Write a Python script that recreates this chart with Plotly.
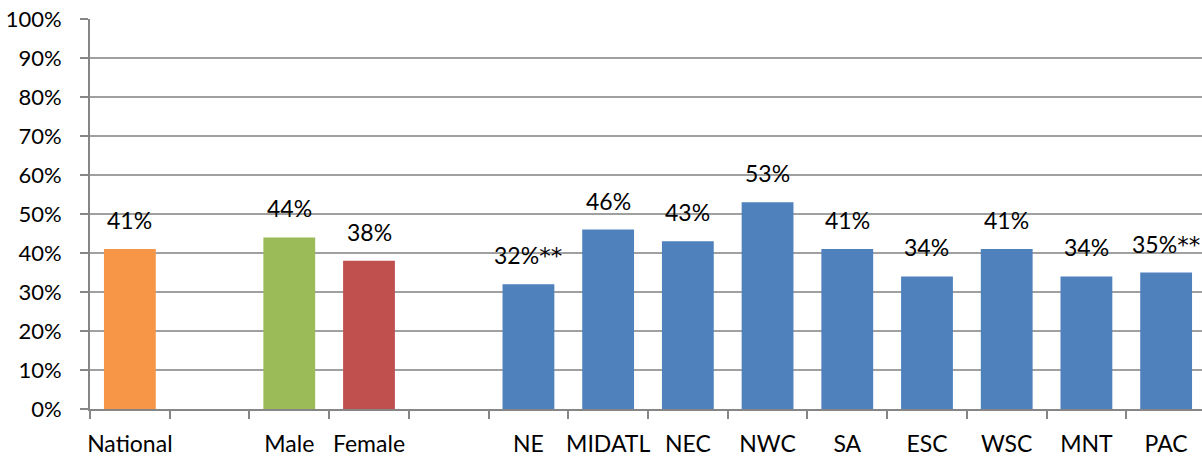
import plotly.graph_objects as go

# Share of respondents by group; blank slots separate the three groups
categories = ["National", " ", "Male", "Female", "  ",
              "NE", "MIDATL", "NEC", "NWC", "SA", "ESC", "WSC", "MNT", "PAC"]
values = [41, None, 44, 38, None, 32, 46, 43, 53, 41, 34, 41, 34, 35]
suffixes = ["", "", "", "", "", "**", "", "", "", "", "", "", "", "**"]
bar_colors = ["#F79646", "#FFFFFF", "#9BBB59", "#C0504D", "#FFFFFF"] + ["#4F81BD"] * 9
y_ticks = list(range(0, 101, 10))
y_tick_text = [f"{v}%" for v in y_ticks]

FONT = "Lato, Calibri, Carlito, sans-serif"
FONT_SIZE = 22
LABEL_SIZE = 23


def label_text(val, suf):
    # asterisks set in a font whose glyph sits at full size
    if suf:
        return f"{val}%<span style='font-family:\"DejaVu Sans\"'>{suf}</span>"
    return f"{val}%"


fig = go.Figure()
fig.add_trace(go.Bar(
    x=categories,
    y=values,
    marker=dict(color=bar_colors, line=dict(width=0)),
    width=0.65,
    hoverinfo="skip",
))

for cat, val, suf in zip(categories, values, suffixes):
    if val is None:
        continue
    fig.add_annotation(
        x=cat, y=val, text=label_text(val, suf),
        showarrow=False, yanchor="bottom", yshift=13,
        font=dict(family=FONT, size=LABEL_SIZE, color="#000000"),
    )

fig.update_layout(
    width=1202, height=457,
    margin=dict(l=90, r=0, t=19, b=48),
    paper_bgcolor="white", plot_bgcolor="white",
    showlegend=False,
    font=dict(family=FONT, size=FONT_SIZE, color="#000000"),
    xaxis=dict(
        type="category",
        categoryorder="array", categoryarray=categories,
        range=[-0.5, 13.45],
        automargin=False,
        tickangle=0,
        showgrid=False, zeroline=False,
        showline=True, linecolor="#868686", linewidth=2,
        ticks="outside", tickson="boundaries", ticklen=8,
        tickcolor="#868686", tickwidth=2,
        ticklabelstandoff=13,
        tickfont=dict(family=FONT, size=LABEL_SIZE, color="#000000"),
    ),
    yaxis=dict(
        range=[0, 100],
        automargin=False,
        tickvals=y_ticks, ticktext=y_tick_text,
        showgrid=True, gridcolor="#A0A0A0", gridwidth=2,
        zeroline=False,
        showline=True, linecolor="#868686", linewidth=2,
        ticks="outside", ticklen=8, tickcolor="#868686", tickwidth=2,
        ticklabelstandoff=14,
        tickfont=dict(family=FONT, size=FONT_SIZE, color="#000000"),
    ),
)

fig.write_html("out.html")
